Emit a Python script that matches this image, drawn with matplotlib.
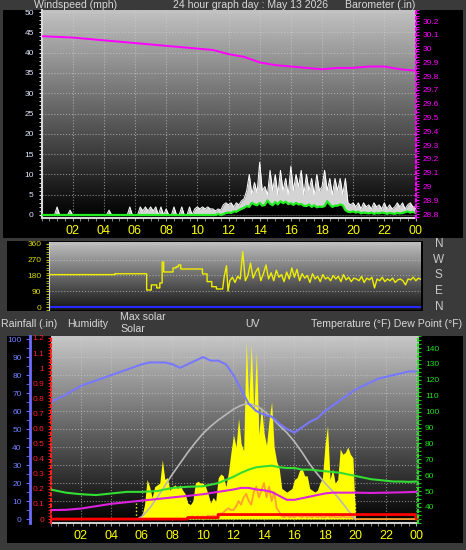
import numpy as np
import matplotlib.pyplot as plt
from matplotlib.patches import Rectangle
from matplotlib.ticker import MultipleLocator, FuncFormatter

plt.rcParams['font.family'] = ['Liberation Sans', 'DejaVu Sans']

W, H = 466, 550

# ---------------- data ----------------
hour_ticks = [2, 4, 6, 8, 10, 12, 14, 16, 18, 20, 22, 24]
hour_labels = ['02', '04', '06', '08', '10', '12', '14', '16', '18', '20', '22', '00']

# 10 minute samples, 00:00 .. 24:00
t10 = np.arange(145) / 6.0

# barometer (in), hourly
baro_t = list(range(25))
baro = [30.09, 30.085, 30.08, 30.07, 30.06, 30.05, 30.04, 30.03, 30.02, 30.01,
        30.0, 29.99, 29.96, 29.94, 29.90, 29.88, 29.87, 29.86, 29.85, 29.86,
        29.86, 29.87, 29.87, 29.85, 29.84]

# wind gust (mph), 10 min
gust = [0, 0, 0, 0, 0, 0,
        2, 0, 0, 0, 0, 1.2,
        0, 0, 0, 0, 0, 0,
        0, 0, 0, 0, 0, 0,
        0, 0, 1.2, 0, 0, 0,
        0, 0, 0, 0, 2, 0,
        0, 0, 2, 1, 2, 1,
        2, 1, 2, 0, 2, 0,
        1.5, 0, 0, 2, 0, 0,
        2, 0, 0, 2, 0, 1.5,
        2, 1.5, 2, 1.5, 2, 1.5,
        1.5, 1, 1.5, 1.2, 2.5, 3,
        2.5, 3, 2, 3, 2.5, 3.5,
        4, 6, 10, 5, 8, 5.5,
        13, 6, 7, 5, 11, 6,
        10, 5, 11, 6, 9, 5,
        12, 6, 10, 7, 11, 5,
        10, 6, 9, 5, 10, 6,
        7, 11, 6, 9, 5, 9,
        6, 9, 5, 9, 3, 2.5,
        3, 2, 3, 1.5, 3, 2,
        2.5, 1.5, 3, 2, 2.5, 1.5,
        3, 1.5, 2.5, 1.5, 2, 3,
        2, 3, 1.5, 2.5, 3, 2,
        2]

# average wind speed (mph), 10 min
wind_avg = [0, 0, 0, 0, 0, 0,
            0, 0, 0, 0, 0, 0,
            0, 0, 0, 0, 0, 0,
            0, 0, 0, 0, 0, 0,
            0, 0, 0, 0, 0, 0,
            0, 0, 0, 0, 0, 0,
            0, 0, 0, 0, 0, 0,
            0, 0, 0, 0, 0, 0,
            0, 0, 0, 0, 0, 0,
            0, 0, 0, 0, 0, 0,
            0, 0, 0, 0, 0, 0,
            0, 0, 0.3, 0, 0.2, 0.5,
            0.6, 0.5, 0.9, 0.8, 1.2, 1.5,
            1.8, 2.2, 2.0, 3.0, 2.6, 2.4,
            3.0, 2.3, 2.5, 3.6, 2.8, 2.4,
            3.2, 2.6, 3.4, 2.9, 3.3, 2.7,
            2.9, 2.5, 3.0, 2.6, 2.7, 2.3,
            2.2, 2.6, 2.0, 2.4, 1.9, 2.1,
            2.0, 2.2, 3.4, 2.6, 2.0, 2.3,
            2.3, 2.6, 2.4, 1.2, 0.8, 0.7,
            0.9, 0.6, 0.8, 0.4, 0.6, 0.5,
            0.4, 0.6, 0.3, 0.5, 0.4, 0.6,
            0.5, 0.3, 0.5, 0.4, 0.3, 0.5,
            0.4, 0.5, 0.7, 0.9, 0.6, 0.8,
            0.5]

# wind direction (deg): steady part, then 10 min samples from 11:40
dir_steps_t = [0, 4.25, 4.25, 6.3, 6.3, 6.6, 6.6, 6.95, 6.95, 7.15, 7.15, 7.3, 7.3,
               7.4, 7.4, 8.0, 8.0, 8.2, 8.2, 8.35, 8.35, 8.5, 8.5, 9.9, 9.9, 10.2,
               10.2, 10.5, 10.5, 10.8, 10.8, 11.2, 11.3, 11.45, 11.55]
dir_steps_v = [185, 185, 190, 190, 97, 97, 126, 126, 109, 109, 137, 137, 257,
               257, 200, 200, 223, 223, 230, 230, 240, 240, 217, 217, 189, 189,
               145, 145, 116, 116, 103, 103, 171, 236, 91]
dir_noisy = [150, 170,
             140, 175, 160, 316, 150, 180,
             251, 165, 200, 223, 150, 190,
             240, 160, 195, 150, 210, 170,
             185, 145, 200, 160, 223, 170,
             215, 150, 190, 165, 180, 140,
             190, 160, 175, 145, 185, 160,
             170, 150, 180, 160, 175, 145,
             185, 155, 170, 145, 165, 160,
             150, 175, 140, 165, 155, 170,
             109, 160, 150, 170, 145, 160,
             150, 165, 140, 155, 160, 150,
             126, 160, 155, 170, 150, 165,
             158]

# solar (plotted on the 0-100 scale), 10 min
solar = [0, 0, 0, 0, 0, 0,
         0, 0, 0, 0, 0, 0,
         0, 0, 0, 0, 0, 0,
         0, 0, 0, 0, 0, 0,
         0, 0, 0, 0, 0, 0,
         0, 0, 0, 0, 0, 1,
         2, 8, 22, 18, 12, 18,
         19, 20, 33, 22, 23, 16,
         18, 19, 17, 19, 16, 14,
         9, 8, 10, 20, 21, 20,
         20, 18, 14, 9, 12, 10,
         23, 25, 24, 18, 26, 37,
         47, 40, 56, 42, 38, 99,
         65, 97, 59, 93, 47, 63,
         48, 41, 55, 65, 40, 32,
         28, 17, 16, 15, 16, 17,
         22, 23, 27, 28, 24, 24,
         17, 16, 15, 16, 20, 23,
         41, 52, 22, 28, 20, 22,
         39, 36, 37, 40, 36, 34,
         0, 0, 0, 0, 0, 0,
         0, 0, 0, 0, 0, 0,
         0, 0, 0, 0, 0, 0,
         0, 0, 0, 0, 0, 0,
         0]

# UV (plotted on the 0-100 scale), 10 min
uv = [0, 0, 0, 0, 0, 0,
      0, 0, 0, 0, 0, 0,
      0, 0, 0, 0, 0, 0,
      0, 0, 0, 0, 0, 0,
      0, 0, 0, 0, 0, 0,
      0, 0, 0, 0, 0, 0,
      0, 0, 0, 0, 0, 0,
      0, 0, 0, 0, 0, 0,
      0, 0, 0, 0, 0, 0,
      1, 1, 1.5, 1, 1.5, 1,
      1.5, 1, 2, 1.5, 2, 1.5,
      3, 3, 3.5, 5, 6, 5,
      5, 7, 10, 8, 12, 14,
      10, 8, 15, 18, 12, 16,
      20, 12, 18, 10, 15, 6,
      4, 1.5, 1, 2, 1, 1.5,
      1, 2, 1.5, 1, 2, 1,
      1.5, 1, 2, 1, 1.5, 1,
      1, 2, 1, 1.5, 1, 1,
      1, 1.5, 1, 1, 1, 1,
      0, 0, 0, 0, 0, 0,
      0, 0, 0, 0, 0, 0,
      0, 0, 0, 0, 0, 0,
      0, 0, 0, 0, 0, 0,
      0]

sunrise, sunset = 5.6, 19.95

maxsol_t = [5.7, 6, 6.5, 7, 7.5, 8, 8.5, 9, 9.5, 10, 10.5, 11, 11.5, 12, 12.4,
            12.8, 13.2, 13.6, 14, 14.5, 15, 15.5, 16, 16.5, 17, 17.5, 18, 18.5,
            19, 19.5, 20]
maxsol = [0, 1.5, 6, 12, 18.5, 25, 31, 37, 42.5, 47.5, 51.5, 55, 58, 61, 62.8,
          64, 63.8, 62.5, 60, 56.5, 52, 48, 43, 37, 30.5, 25, 20, 15.5,
          10.5, 5, 0]

hum_t = [0, 1, 2, 3, 4, 5, 6, 6.5, 7, 7.5, 8, 8.5, 9, 9.5, 10, 10.5, 11, 11.5,
         12, 12.5, 13, 13.5, 14, 14.5, 15, 15.5, 16, 16.5, 17, 17.5, 18, 18.5,
         19, 19.5, 20, 20.5, 21, 21.5, 22, 22.5, 23, 23.5, 24]
hum = [65, 69, 74, 77, 80, 83, 86, 87, 87, 87, 86, 84, 86, 88, 90, 88, 88, 86,
       80, 72, 64, 60, 58, 57, 53, 50, 48, 51, 54, 56, 60, 63,
       66, 69, 72, 74, 76, 78, 79, 80, 81, 82, 82]

temp_t = [0, 1, 2, 3, 4, 5, 6, 7, 8, 9, 10, 11, 11.5, 12, 12.5, 13, 13.5, 14,
          14.5, 15, 15.5, 16, 16.5, 17, 17.5, 18, 18.5, 19, 19.5, 20, 20.5, 21,
          21.5, 22, 22.5, 23, 23.5, 24]
temp = [51, 49, 48, 47.5, 48.5, 49.5, 49.5, 50, 52, 52.7, 53, 55, 57, 59, 61.5,
        63.5, 65, 65.5, 66, 65, 64.5, 64.5, 63.5, 63.5, 63, 62.5, 62, 61.5,
        60.5, 59.5, 58.5, 57.5, 57, 56.5, 56, 56, 55.8, 56]

dew_t = [0, 1, 2, 3, 4, 5, 6, 7, 8, 9, 10, 11, 12, 12.5, 13, 13.5, 14, 14.5, 15,
         15.5, 16, 16.5, 17, 17.5, 18, 18.5, 19, 20, 21, 22, 23, 24]
dew = [38, 38.2, 39, 40.5, 42, 43, 44, 45, 46, 47, 48, 49.5, 51, 52, 52, 51,
       50.5, 49.5, 47, 44.5, 44.5, 45.5, 46.5, 47.5, 48.5, 49, 49, 49, 48.8,
       49, 49.2, 49.5]

rain_t = [0, 9, 9, 11, 11, 23.9, 24]
rain = [0, 0, 0.01, 0.01, 0.03, 0.03, 0]

# ---------------- figure ----------------
fig = plt.figure(figsize=(W / 100, H / 100), dpi=100, facecolor='#3a3a3a')


def rect(x0, y0, x1, y1, color='black'):
    fig.patches.append(Rectangle((x0 / W, 1 - y1 / H), (x1 - x0) / W, (y1 - y0) / H,
                                 transform=fig.transFigure, facecolor=color,
                                 edgecolor='none', zorder=-1))


def label(x, y, s, ha='left'):
    fig.text(x / W, 1 - y / H, s, ha=ha, va='center', color='#d8d8d8',
             fontsize=7.6, zorder=-2)


def px_axes(x0, y0, x1, y1):
    ax = fig.add_axes([x0 / W, 1 - y1 / H, (x1 - x0) / W, (y1 - y0) / H])
    ax.set_facecolor('none')
    return ax


def gradient(ax, top, bottom):
    g = np.linspace(top, bottom, 256).reshape(-1, 1)
    ax.imshow(g, cmap='gray', vmin=0, vmax=1, aspect='auto', extent=(0, 1, 0, 1),
              transform=ax.transAxes, zorder=0, interpolation='bilinear')


def fmt_g(v, p):
    s = '%.1f' % v
    return s[:-2] if s.endswith('.0') else s


rect(3, 10, 463, 238)
rect(7, 241, 423, 311)
rect(7, 336, 463, 543)

label(34, 5, 'Windspeed (mph)')
label(251, 5, '24 hour graph day : May 13 2026', ha='center')
label(415, 5, 'Barometer (.in)', ha='right')
label(1, 324, 'Rainfall (.in)')
label(67, 324, 'Humidity')
label(120, 317, 'Max solar')
label(120, 329, 'Solar')
label(245, 324, 'UV')
label(462, 324, 'Temperature (°F) Dew Point (°F)', ha='right')

grid_kw = dict(color='#d0d0d0', ls=':', lw=0.8, alpha=0.6)

# ---- wind / barometer ----
ax1 = px_axes(41.5, 10, 415.5, 218)
gradient(ax1, 0.76, 0.0)
ax1.fill_between(t10, 0, gust, color='#d4d4d4', lw=0, zorder=2)
ax1.plot(t10, gust, color='white', lw=0.7, zorder=3)
ax1.fill_between(t10, 0, wind_avg, color='black', lw=0, zorder=4)
ax1.plot(t10, wind_avg, color='#22ee22', lw=1.6, zorder=5)
ax1.set_xlim(0, 24)
ax1.set_ylim(-0.74, 50.5)
ax1.set_axisbelow(True)
ax1.grid(True, **grid_kw)
ax1.set_xticks(hour_ticks, hour_labels)
ax1.xaxis.set_minor_locator(MultipleLocator(0.5))
ax1.tick_params(axis='x', which='both', colors='#a0a0a0', labelcolor='#ffff00',
                labelsize=9, length=2, pad=3)
ax1.set_yticks(range(0, 51, 5))
ax1.yaxis.set_minor_locator(MultipleLocator(1))
ax1.tick_params(axis='y', which='both', colors='white', labelcolor='#e0e8ff',
                labelsize=6, length=2.5, pad=3)
for s in ['top', 'right']:
    ax1.spines[s].set_visible(False)
for s in ['left', 'bottom']:
    ax1.spines[s].set_color('#d8d8d8')
    ax1.spines[s].set_linewidth(1.5)

ax1b = ax1.twinx()
ax1b.plot(baro_t, baro, color='#ff00ff', lw=1.4)
ax1b.set_ylim(28.771, 30.28)
ax1b.set_yticks(np.arange(28.8, 30.25, 0.1))
ax1b.yaxis.set_major_formatter(FuncFormatter(fmt_g))
ax1b.yaxis.set_minor_locator(MultipleLocator(0.02))
ax1b.tick_params(axis='y', which='both', colors='#ff00ff', labelsize=6, length=2.5, pad=2.5)
for s in ['top', 'bottom', 'left']:
    ax1b.spines[s].set_visible(False)
ax1b.spines['right'].set_color('#ff00ff')
ax1b.spines['right'].set_linestyle(':')
ax1b.spines['right'].set_linewidth(1.5)

# ---- wind direction ----
ax2 = px_axes(49, 242, 421, 310)
gradient(ax2, 0.76, 0.08)
dir_t = list(dir_steps_t) + list(t10[70:])
dir_v = list(dir_steps_v) + dir_noisy
ax2.axhline(0, color='#2828ff', lw=1.5, zorder=2)
ax2.plot(dir_t, dir_v, color='#eeee00', lw=1, zorder=3)
ax2.set_xlim(0, 24)
ax2.set_ylim(-17, 371)
ax2.set_xticks([])
ax2.set_yticks([0, 90, 180, 270, 360])
ax2.yaxis.set_minor_locator(MultipleLocator(15))
ax2.tick_params(axis='y', which='both', colors='#c8c800', labelcolor='#d8d800',
                labelsize=6, length=2.5, pad=3)
ax2.set_axisbelow(True)
ax2.grid(True, axis='y', **grid_kw)
for s in ['top', 'right', 'bottom']:
    ax2.spines[s].set_visible(False)
ax2.spines['left'].set_color('#d0d0d0')
for lab, val in zip(['N', 'W', 'S', 'E', 'N'], [360, 270, 180, 90, 0]):
    ax2.text(1.048, val, lab, transform=ax2.get_yaxis_transform(), ha='center',
             va='center', color='#c8c8c8', fontsize=8.5)

# ---- humidity / solar / rain / temperature ----
ax3 = px_axes(50.5, 336, 418, 523)
gradient(ax3, 0.78, 0.0)
ax3.fill_between(t10, 0, solar, color='#ffff00', lw=0, zorder=2)
ax3.plot(t10, uv, color='#ffa030', lw=1.3, zorder=3)
ax3.vlines([sunrise, sunset], 0, 9, colors='#ffff00', linestyles=':', lw=1, zorder=3)
ax3.plot(maxsol_t, maxsol, color='#b8b8b8', lw=1.2, zorder=4)
ax3.plot(hum_t, hum, color='#7878ff', lw=1.5, zorder=5)
ax3.set_xlim(0, 24.1)
ax3.set_ylim(-2.2, 101.7)
ax3.set_axisbelow(True)
ax3.grid(True, **grid_kw)
ax3.set_xticks(hour_ticks, hour_labels)
ax3.xaxis.set_minor_locator(MultipleLocator(0.5))
ax3.tick_params(axis='x', which='both', colors='#a0a0a0', labelcolor='#ffff00',
                labelsize=9, length=2, pad=3)
ax3.set_yticks(range(0, 101, 10))
ax3.yaxis.set_minor_locator(MultipleLocator(5))
ax3.tick_params(axis='y', which='both', colors='#6b6bff', labelcolor='#7080ff',
                labelsize=6, length=3, pad=3)
ax3.spines['left'].set_position(('axes', -20.5 / 367.5))
ax3.spines['left'].set_color('#6b6bff')
ax3.spines['left'].set_linewidth(2)
for s in ['top', 'right']:
    ax3.spines[s].set_visible(False)
ax3.spines['bottom'].set_color('#d0d0d0')
ax3.spines['bottom'].set_linewidth(1.5)

ax3r = ax3.twinx()
ax3r.plot(rain_t, rain, color='#ff0000', lw=2)
ax3r.set_ylim(-0.026, 1.213)
ax3r.yaxis.set_ticks_position('left')
ax3r.set_yticks(np.arange(0, 1.25, 0.1))
ax3r.yaxis.set_major_formatter(FuncFormatter(fmt_g))
ax3r.yaxis.set_minor_locator(MultipleLocator(0.02))
ax3r.tick_params(axis='y', which='both', colors='#ff2020', labelsize=6, length=2.5, pad=2)
for s in ['top', 'bottom', 'right']:
    ax3r.spines[s].set_visible(False)
ax3r.spines['left'].set_color('#ff2020')
ax3r.spines['left'].set_linestyle(':')
ax3r.spines['left'].set_linewidth(1.5)

ax3t = ax3.twinx()
ax3t.plot(temp_t, temp, color='#33dd33', lw=1.5)
ax3t.plot(dew_t, dew, color='#dd22dd', lw=1.5)
ax3t.set_ylim(29.9, 147.6)
ax3t.set_yticks(range(40, 141, 10))
ax3t.yaxis.set_minor_locator(MultipleLocator(2.5))
ax3t.tick_params(axis='y', which='both', colors='#22dd22', labelsize=6, length=2.5, pad=2.5)
for s in ['top', 'bottom', 'left']:
    ax3t.spines[s].set_visible(False)
ax3t.spines['right'].set_color('#22dd22')
ax3t.spines['right'].set_linestyle(':')
ax3t.spines['right'].set_linewidth(1.5)

fig.savefig('out.png', dpi=100, facecolor=fig.get_facecolor())
